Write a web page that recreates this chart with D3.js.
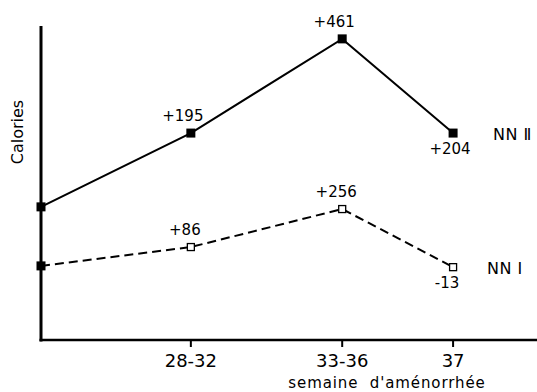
<!DOCTYPE html>
<html>
<head>
<meta charset="utf-8">
<script src="https://cdn.jsdelivr.net/npm/d3@7"></script>
<style>
  body { margin: 0; background: #fff; }
  svg text { font-family: "DejaVu Sans", "Liberation Sans", sans-serif; fill: #000; }
</style>
</head>
<body>
<div id="chart"></div>
<script>
// x stages: baseline (on the axis), then the three week ranges
const stageLabels = ["", "28-32", "33-36", "37"];
const stagePos = [0, 1, 2.01, 2.75];

// relative level (no scale printed on the axis)
const nn2Levels = [42.4, 65.9, 95.9, 65.9];
const nn1Levels = [23.6, 29.6, 41.7, 23.2];

// annotations printed next to points
const nn2Notes = [null, "+195", "+461", "+204"];
const nn1Notes = [null, "+86", "+256", "-13"];

const seriesNames = ["NN Ⅱ", "NN Ⅰ"];

const width = 537, height = 392;
const svg = d3.select("#chart").append("svg")
    .attr("width", width)
    .attr("height", height);

const x = d3.scaleLinear().domain([0, 3.31]).range([41, 537]);
const y = d3.scaleLinear().domain([0, 100]).range([340, 26]);

// axes
svg.append("line")
    .attr("x1", x(0)).attr("x2", x(0))
    .attr("y1", y(100)).attr("y2", y(0) + 1.5)
    .attr("stroke", "#000").attr("stroke-width", 3);
svg.append("line")
    .attr("x1", x(0) - 1.5).attr("x2", x(3.31))
    .attr("y1", y(0)).attr("y2", y(0))
    .attr("stroke", "#000").attr("stroke-width", 2.5);

let ticks = stagePos.slice(1)
svg.selectAll(".tick").data(ticks).join("line")
    .attr("class", "tick")
    .attr("x1", d => x(d)).attr("x2", d => x(d))
    .attr("y1", y(0)).attr("y2", y(0) + 7)
    .attr("stroke", "#000").attr("stroke-width", 2);

svg.selectAll(".tickLabel").data(stageLabels.slice(1)).join("text")
    .attr("class", "tickLabel")
    .attr("x", (d, i) => x(stagePos[i + 1]))
    .attr("y", 367)
    .attr("text-anchor", "middle")
    .style("font-size", "18px")
    .text(d => d);

svg.append("text")
    .attr("x", 387).attr("y", 388)
    .attr("text-anchor", "middle")
    .style("font-size", "15px")
    .style("letter-spacing", "0.9px")
    .style("white-space", "pre")
    .text("semaine  d'aménorrhée");

svg.append("text")
    .attr("transform", "translate(23,132) rotate(-90)")
    .attr("text-anchor", "middle")
    .style("font-size", "16px")
    .text("Calories");

const line = d3.line()
    .x((d, i) => x(stagePos[i]))
    .y(d => y(d));

// NN II solid
svg.append("path")
    .attr("d", line(nn2Levels))
    .attr("fill", "none").attr("stroke", "#000").attr("stroke-width", 2);
// NN I dashed
svg.append("path")
    .attr("d", line(nn1Levels))
    .attr("fill", "none").attr("stroke", "#000").attr("stroke-width", 2)
    .attr("stroke-dasharray", "9,5");

// markers
svg.selectAll(".nn2pt").data(nn2Levels).join("rect")
    .attr("class", "nn2pt")
    .attr("x", (d, i) => x(stagePos[i]) - 4.5)
    .attr("y", d => y(d) - 4.5)
    .attr("width", 9).attr("height", 9)
    .attr("fill", "#000");

svg.selectAll(".nn1pt").data(nn1Levels).join("rect")
    .attr("class", "nn1pt")
    .attr("x", (d, i) => x(stagePos[i]) - (i == 0 ? 4.5 : 3.5))
    .attr("y", (d, i) => y(d) - (i == 0 ? 4.5 : 3.5))
    .attr("width", (d, i) => i == 0 ? 9 : 7)
    .attr("height", (d, i) => i == 0 ? 9 : 7)
    .attr("fill", (d, i) => i == 0 ? "#000" : "#fff")
    .attr("stroke", "#000").attr("stroke-width", (d, i) => i == 0 ? 0 : 1.3);

// value notes: above the point for the first two, below for the last
function noteY(level, i) {
    return i == 3 ? y(level) + 21 : y(level) - 12;
}
svg.selectAll(".nn2note").data(nn2Notes).join("text")
    .attr("class", "nn2note")
    .attr("x", (d, i) => x(stagePos[i]) - (i == 3 ? 3 : 8))
    .attr("y", (d, i) => noteY(nn2Levels[i], i))
    .attr("text-anchor", "middle")
    .style("font-size", "15px")
    .text(d => d);

svg.selectAll(".nn1note").data(nn1Notes).join("text")
    .attr("class", "nn1note")
    .attr("x", (d, i) => x(stagePos[i]) - 6)
    .attr("y", (d, i) => noteY(nn1Levels[i], i))
    .attr("text-anchor", "middle")
    .style("font-size", "15px")
    .text(d => d);

// series names at the right
svg.selectAll(".seriesName").data(seriesNames).join("text")
    .attr("class", "seriesName")
    .attr("x", (d, i) => i == 0 ? 493 : 487)
    .attr("y", (d, i) => y(i == 0 ? nn2Levels[3] : nn1Levels[3]) + 7)
    .style("font-size", "16px")
    .style("letter-spacing", "0.5px")
    .text(d => d);
</script>
</body>
</html>
